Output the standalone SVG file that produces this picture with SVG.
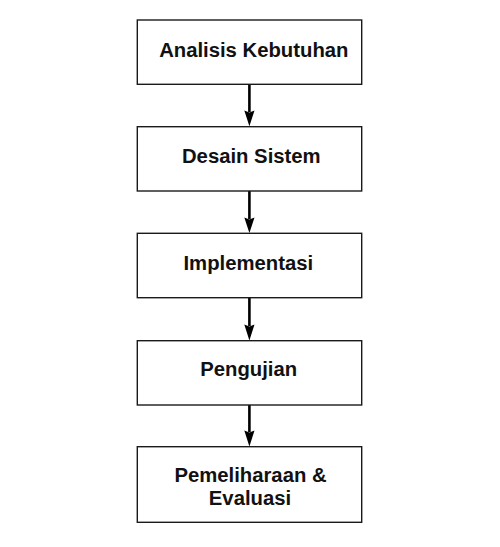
<svg xmlns="http://www.w3.org/2000/svg" width="500" height="547" viewBox="0 0 500 547">
<defs>
<style>
.box{fill:#fff;stroke:#1a1a1a;stroke-width:1.4}
.lbl{font-family:"Liberation Sans",Arial,sans-serif;font-weight:bold;font-size:20.3px;fill:#111;text-anchor:middle}
.conn{stroke:#000;stroke-width:2.6;fill:none}
.head{fill:#000}
</style>
</defs>
<rect width="500" height="547" fill="#fff"/>
<g id="connectors">
<line class="conn" x1="249.4" y1="84.3" x2="249.4" y2="112"/>
<path class="head" d="M244.3,110.5 L249.4,112.5 L254.5,110.5 L249.4,126.2 Z"/>
<line class="conn" x1="249.4" y1="191" x2="249.4" y2="219"/>
<path class="head" d="M244.3,217.5 L249.4,219.5 L254.5,217.5 L249.4,233 Z"/>
<line class="conn" x1="249.4" y1="297.7" x2="249.4" y2="326"/>
<path class="head" d="M244.3,324.5 L249.4,326.5 L254.5,324.5 L249.4,340.4 Z"/>
<line class="conn" x1="249.4" y1="405" x2="249.4" y2="432"/>
<path class="head" d="M244.3,430.5 L249.4,432.5 L254.5,430.5 L249.4,446.4 Z"/>
</g>
<g id="node1">
<rect class="box" x="137.3" y="20" width="224.4" height="64.3"/>
<text class="lbl" x="253.8" y="56.7">Analisis Kebutuhan</text>
</g>
<g id="node2">
<rect class="box" x="137.3" y="126.7" width="224.4" height="64.3"/>
<text class="lbl" x="251.3" y="163.3">Desain Sistem</text>
</g>
<g id="node3">
<rect class="box" x="137.3" y="233.3" width="224.4" height="64.4"/>
<text class="lbl" x="248.3" y="270">Implementasi</text>
</g>
<g id="node4">
<rect class="box" x="137.3" y="340.7" width="224.4" height="64.3"/>
<text class="lbl" x="248.7" y="375.8">Pengujian</text>
</g>
<g id="node5">
<rect class="box" x="137.3" y="446.7" width="224.4" height="75.6"/>
<text class="lbl" x="250.5" y="481.7">Pemeliharaan &amp;</text>
<text class="lbl" x="250" y="505">Evaluasi</text>
</g>
</svg>
